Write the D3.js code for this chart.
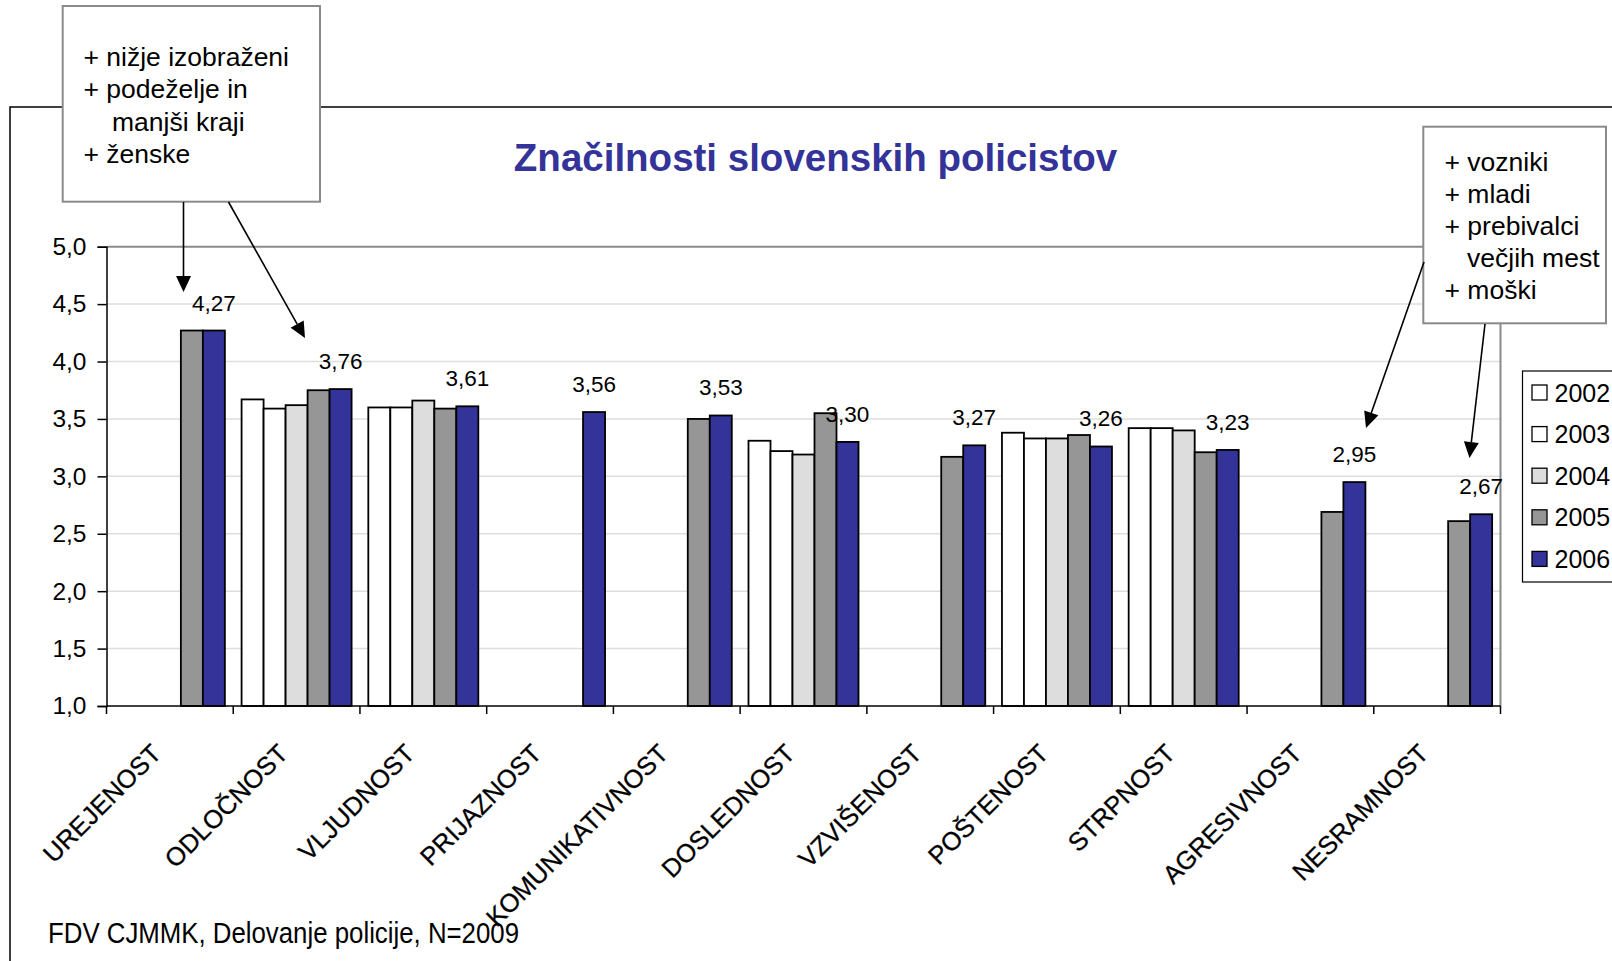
<!DOCTYPE html>
<html>
<head>
<meta charset="utf-8">
<script src="https://cdn.jsdelivr.net/npm/d3@7"></script>
<style>
  html, body { margin: 0; padding: 0; background: #fff; }
  svg { display: block; }
  text { font-family: "Liberation Sans", Arial, sans-serif; }
</style>
</head>
<body>
<script>
// ---------- DATA ----------
const categories = ["UREJENOST","ODLOČNOST","VLJUDNOST","PRIJAZNOST","KOMUNIKATIVNOST","DOSLEDNOST","VZVIŠENOST","POŠTENOST","STRPNOST","AGRESIVNOST","NESRAMNOST"];
const years = ["2002","2003","2004","2005","2006"];
const values2002 = [null, 3.67, 3.60, null, null, 3.31, null, 3.38, 3.42, null, null];
const values2003 = [null, 3.59, 3.60, null, null, 3.22, null, 3.33, 3.42, null, null];
const values2004 = [null, 3.62, 3.66, null, null, 3.19, null, 3.33, 3.40, null, null];
const values2005 = [4.27, 3.75, 3.59, null, 3.50, 3.55, 3.17, 3.36, 3.21, 2.69, 2.61];
const values2006 = [4.27, 3.76, 3.61, 3.56, 3.53, 3.30, 3.27, 3.26, 3.23, 2.95, 2.67];
const yTicks = [1.0, 1.5, 2.0, 2.5, 3.0, 3.5, 4.0, 4.5, 5.0];
const seriesColors = ["#ffffff", "#ffffff", "#dddddd", "#969696", "#333399"];
const titleText = "Značilnosti slovenskih policistov";
const footerText = "FDV CJMMK, Delovanje policije, N=2009";
const callout1 = [["+ nižje izobraženi", 0], ["+ podeželje in", 0], ["manjši kraji", 1], ["+ ženske", 0]];
const callout2 = [["+ vozniki", 0], ["+ mladi", 0], ["+ prebivalci", 0], ["večjih mest", 1], ["+ moški", 0]];

const seriesValues = [values2002, values2003, values2004, values2005, values2006];

// ---------- LAYOUT ----------
const W = 1612, H = 961;
const plotL = 106.5, plotR = 1500.5, plotT = 246.7, plotB = 706;

const svg = d3.select("body").append("svg").attr("width", W).attr("height", H);

const x0 = d3.scaleBand().domain(categories).range([plotL, plotR]).paddingInner(0).paddingOuter(0);
const x1 = d3.scaleBand().domain(years).range([0, x0.bandwidth()]).paddingInner(0).paddingOuter(0.38);
const y = d3.scaleLinear().domain([1, 5]).range([plotB, plotT]);
const fmt = v => v.toFixed(1).replace(".", ",");
const fmt2 = v => v.toFixed(2).replace(".", ",");

// outer frame
svg.append("path")
  .attr("d", `M10,${H + 5} V107 H${W + 5}`)
  .attr("fill", "none").attr("stroke", "#000").attr("stroke-width", 1.5);

// gridlines
svg.append("g").selectAll("line")
  .data(yTicks.filter(t => t > 1 && t < 5))
  .join("line")
  .attr("x1", plotL).attr("x2", plotR)
  .attr("y1", d => y(d)).attr("y2", d => y(d))
  .attr("stroke", "#dedede").attr("stroke-width", 1.5);

// plot border top & right
svg.append("path")
  .attr("d", `M${plotL},${y(5)} H${plotR} V${plotB}`)
  .attr("fill", "none").attr("stroke", "#8a8a8a").attr("stroke-width", 2);

// bars
const barsG = svg.append("g");
years.forEach((yr, si) => {
  const data = categories.map((c, i) => ({ c, v: seriesValues[si][i] })).filter(d => d.v !== null);
  barsG.append("g").selectAll("rect")
    .data(data)
    .join("rect")
    .attr("x", d => x0(d.c) + x1(yr))
    .attr("width", x1.bandwidth())
    .attr("y", d => y(d.v))
    .attr("height", d => y(1) - y(d.v))
    .attr("fill", seriesColors[si])
    .attr("stroke", "#000")
    .attr("stroke-width", 1.8);
});

// y axis
const yAxis = d3.axisLeft(y).tickValues(yTicks).tickFormat(fmt).tickSize(9).tickPadding(11);
const yg = svg.append("g").attr("transform", `translate(${plotL},0)`).call(yAxis);
yg.select(".domain").attr("stroke", "#000").attr("stroke-width", 1.5);
yg.selectAll(".tick line").attr("stroke", "#000").attr("stroke-width", 1.5);
yg.selectAll(".tick text").attr("font-size", 24.5).attr("fill", "#000")
  .attr("font-family", '"Liberation Sans", Arial, sans-serif');

// x axis line + boundary ticks
svg.append("line").attr("x1", plotL).attr("x2", plotR).attr("y1", plotB).attr("y2", plotB)
  .attr("stroke", "#000").attr("stroke-width", 1.5);
const boundaries = categories.map(c => x0(c)).concat([x0(categories[categories.length - 1]) + x0.bandwidth()]);
svg.append("g").selectAll("line").data(boundaries).join("line")
  .attr("x1", d => d).attr("x2", d => d).attr("y1", plotB).attr("y2", plotB + 8)
  .attr("stroke", "#000").attr("stroke-width", 1.5);

// category labels
svg.append("g").selectAll("text").data(categories).join("text")
  .attr("transform", c => `translate(${x0(c) + x0.bandwidth() / 2 - 7},755) rotate(-45)`)
  .attr("text-anchor", "end")
  .attr("font-size", 25.5)
  .attr("fill", "#000")
  .attr("stroke", "#000").attr("stroke-width", 0.3)
  .text(c => c);

// data labels (2006)
svg.append("g").selectAll("text")
  .data(categories.map((c, i) => ({ c, v: values2006[i] })))
  .join("text")
  .attr("x", d => x0(d.c) + x1("2006") + x1.bandwidth() / 2)
  .attr("y", d => y(d.v) - 20)
  .attr("text-anchor", "middle")
  .attr("font-size", 22.5)
  .attr("fill", "#000")
  .text(d => fmt2(d.v));

// title
svg.append("text")
  .attr("x", 815.5).attr("y", 171)
  .attr("text-anchor", "middle")
  .attr("font-size", 38.5).attr("font-weight", "bold")
  .attr("fill", "#333399")
  .text(titleText);

// footer
svg.append("text")
  .attr("x", 48).attr("y", 943)
  .attr("font-size", 30)
  .attr("textLength", 471).attr("lengthAdjust", "spacingAndGlyphs")
  .attr("fill", "#000")
  .text(footerText);

// legend
const lg = svg.append("g");
lg.append("rect").attr("x", 1522.5).attr("y", 371).attr("width", 120).attr("height", 211)
  .attr("fill", "#fff").attr("stroke", "#000").attr("stroke-width", 1.2);
years.forEach((yr, i) => {
  const cy = 392.5 + i * 41.6;
  lg.append("rect").attr("x", 1532).attr("y", cy - 7.5).attr("width", 15).attr("height", 15)
    .attr("fill", seriesColors[i]).attr("stroke", "#000").attr("stroke-width", 1.3);
  lg.append("text").attr("x", 1554.5).attr("y", cy + 9).attr("font-size", 25).attr("fill", "#000").text(yr);
});

// callouts
function callout(x, yy, w, h, lines, tx, indent, baselines) {
  const g = svg.append("g");
  g.append("rect").attr("x", x).attr("y", yy).attr("width", w).attr("height", h)
    .attr("fill", "#fff").attr("stroke", "#8a8a8a").attr("stroke-width", 2);
  g.selectAll("text").data(lines).join("text")
    .attr("x", d => d[1] ? indent : tx)
    .attr("y", (d, i) => baselines[i])
    .attr("font-size", 26.5).attr("fill", "#000")
    .text(d => d[0]);
}
callout(62.7, 6, 257.3, 195.7, callout1, 83.5, 112, [66, 98, 130.5, 162.5]);
callout(1423.3, 126.7, 182.7, 196.6, callout2, 1444.5, 1467, [171, 203, 235, 267, 299]);

// arrows
function arrow(xa, ya, xb, yb) {
  const ang = Math.atan2(yb - ya, xb - xa);
  const L = 16, Wd = 7.5;
  const bx = xb - L * Math.cos(ang), by = yb - L * Math.sin(ang);
  svg.append("line").attr("x1", xa).attr("y1", ya).attr("x2", bx).attr("y2", by)
    .attr("stroke", "#000").attr("stroke-width", 1.6);
  const px = -Math.sin(ang) * Wd, py = Math.cos(ang) * Wd;
  svg.append("path")
    .attr("d", `M${xb},${yb} L${bx + px},${by + py} L${bx - px},${by - py} Z`)
    .attr("fill", "#000");
}
arrow(183.5, 202, 183.5, 292);
arrow(228.5, 202, 305, 338);
arrow(1424, 262, 1366, 428);
arrow(1485, 324, 1469.5, 458);
</script>
</body>
</html>
